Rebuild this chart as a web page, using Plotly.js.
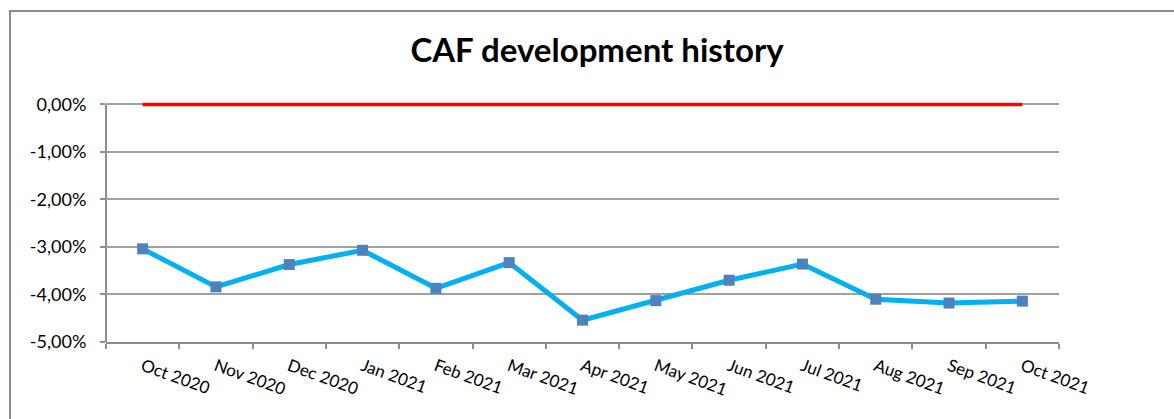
<!DOCTYPE html>
<html>
<head>
<meta charset="utf-8">
<script src="https://cdn.plot.ly/plotly-3.0.1.min.js"></script>
<style>
  html, body { margin: 0; padding: 0; background: #fff; }
  #wrap { position: relative; width: 1174px; height: 419px; overflow: hidden; }
  #chart { width: 1174px; height: 419px; }
  #frame { position: absolute; left: 9px; top: 10px; width: 1200px; height: 500px;
           border-left: 2px solid #8c8c8c; border-top: 2px solid #8c8c8c; pointer-events: none; }
</style>
</head>
<body>
<div id="wrap">
  <div id="chart"></div>
  <div id="frame"></div>
</div>
<script>
const months = ['Oct 2020','Nov 2020','Dec 2020','Jan 2021','Feb 2021','Mar 2021','Apr 2021',
                'May 2021','Jun 2021','Jul 2021','Aug 2021','Sep 2021','Oct 2021'];
const cafValues = [-3.04, -3.84, -3.37, -3.07, -3.87, -3.33, -4.54, -4.13, -3.70, -3.36, -4.10, -4.18, -4.14];
const zeroValues = [0, 0, 0, 0, 0, 0, 0, 0, 0, 0, 0, 0, 0];
const yTickValues = [0, -1, -2, -3, -4, -5];
const yTickLabels = ['0,00%', '-1,00%', '-2,00%', '-3,00%', '-4,00%', '-5,00%'];

const font = 'Lato, "Open Sans", sans-serif';

const traces = [
  {
    x: months, y: zeroValues, type: 'scatter', mode: 'lines',
    line: { color: '#ff0000', width: 3.5 }, hoverinfo: 'skip', showlegend: false
  },
  {
    x: months, y: cafValues, type: 'scatter', mode: 'lines+markers',
    line: { color: '#00b0f0', width: 5 },
    marker: { symbol: 'square', size: 11, color: '#4f81bd' },
    showlegend: false
  }
];

const layout = {
  width: 1174, height: 419,
  margin: { l: 106, r: 115, t: 102, b: 77 },
  paper_bgcolor: '#ffffff', plot_bgcolor: '#ffffff',
  font: { family: font, size: 17, color: '#000' },
  title: {
    text: '<b>CAF development history</b>',
    font: { family: font, size: 33, color: '#000' },
    xref: 'container', x: 597 / 1174, xanchor: 'center',
    yref: 'container', y: 1 - 50 / 419, yanchor: 'middle'
  },
  xaxis: {
    type: 'category',
    range: [-0.5, months.length - 0.5],
    showgrid: false,
    showline: true, linecolor: '#8c8c8c', linewidth: 2,
    ticks: 'outside', tickson: 'boundaries', ticklen: 5, tickcolor: '#8c8c8c', tickwidth: 2,
    tickangle: 20,
    ticklabelstandoff: 6,
    tickfont: { family: font, size: 17, color: '#000' },
    fixedrange: true
  },
  yaxis: {
    range: [-5, 0.05],
    tickvals: yTickValues, ticktext: yTickLabels,
    showgrid: true, gridcolor: '#a0a0a0', gridwidth: 2,
    zeroline: false,
    showline: false,
    ticks: 'outside', ticklen: 5, tickcolor: '#8c8c8c', tickwidth: 2,
    ticklabelstandoff: 10,
    tickfont: { family: font, size: 18, color: '#000' },
    fixedrange: true
  },
  shapes: [
    { type: 'line', xref: 'paper', yref: 'y', x0: 0, x1: 0, y0: -5, y1: 0,
      line: { color: '#8c8c8c', width: 2 }, layer: 'below' }
  ]
};

Plotly.newPlot('chart', traces, layout, { displayModeBar: false, staticPlot: true });
</script>
</body>
</html>
